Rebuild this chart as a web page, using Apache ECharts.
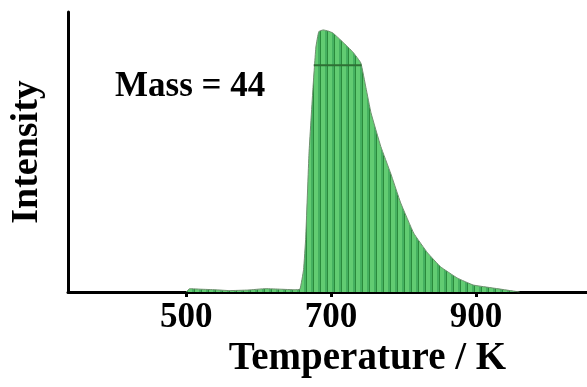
<!DOCTYPE html>
<html>
<head>
<meta charset="utf-8">
<script src="https://cdn.jsdelivr.net/npm/echarts@6/dist/echarts.min.js"></script>
<style>
  html, body { margin: 0; padding: 0; background: #fff; }
  #chart { width: 587px; height: 387px; }
</style>
</head>
<body>
<div id="chart"></div>
<script>
// temperatures (K) and intensity (arb. units, 0..100)
const temps = [500, 505, 520, 540, 560, 585, 610, 630, 650, 657, 662, 665, 669.5, 675, 679, 683, 689, 696, 702.5, 716, 730, 741, 748, 755, 768.5, 782, 796, 814, 833, 851, 874, 896, 924, 947, 960];
const intensity = [0, 1.2, 1.0, 0.8, 0.5, 0.7, 1.2, 1.0, 0.8, 1.0, 8, 19.6, 49.6, 73, 87.5, 93, 93.6, 93.2, 92.5, 89.3, 85.7, 81.8, 73, 64, 52, 42.5, 31.8, 21, 14, 9, 5, 2.5, 1.4, 0.5, 0];
// dark horizontal stroke seen across the peak
const markTemps = [676, 742];
const markLevel = [81, 81];
const tickValues = [500, 700, 900];

const font = 'Liberation Serif, Times New Roman, serif';

/* vertical stripe fill like the original plot */
const pat = document.createElement('canvas');
pat.width = 7;
pat.height = 10;
const pctx = pat.getContext('2d');
pctx.fillStyle = '#62cc72';
pctx.fillRect(0, 0, 7, 10);
pctx.fillStyle = '#45b060';
pctx.fillRect(3, 0, 2, 10);
pctx.fillStyle = '#2a8a3c';
pctx.fillRect(5, 0, 1, 10);

const chart = echarts.init(document.getElementById('chart'), null, { renderer: 'canvas' });

chart.setOption({
  animation: false,
  backgroundColor: '#fff',
  title: {
    text: 'Mass = 44',
    left: 110,
    top: 64,
    textStyle: { fontFamily: font, fontWeight: 'bold', fontSize: 35, color: '#000' },
  },
  grid: { left: 66, right: 0, top: 12, bottom: 95 },
  xAxis: {
    type: 'value',
    min: 337,
    max: 1053,
    name: 'Temperature / K',
    nameLocation: 'middle',
    nameGap: 47,
    nameTextStyle: { fontFamily: font, fontWeight: 'bold', fontSize: 39, color: '#000', padding: [0, 0, 0, 80] },
    axisLine: { lineStyle: { color: '#000', width: 3 } },
    axisTick: { show: true, customValues: tickValues, length: 5, lineStyle: { color: '#000', width: 3 } },
    axisLabel: { customValues: tickValues, margin: 8, fontFamily: font, fontWeight: 'bold', fontSize: 35, color: '#000' },
    splitLine: { show: false },
  },
  yAxis: {
    type: 'value',
    min: 0,
    max: 100,
    name: 'Intensity',
    nameLocation: 'middle',
    nameGap: 22,
    nameRotate: 90,
    nameTextStyle: { fontFamily: font, fontWeight: 'bold', fontSize: 38, color: '#000' },
    axisLine: { show: true, lineStyle: { color: '#000', width: 3 } },
    axisTick: { show: false },
    axisLabel: { show: false },
    splitLine: { show: false },
  },
  series: [
    {
      type: 'line',
      data: temps.map((t, i) => [t, intensity[i]]),
      showSymbol: false,
      smooth: 0.1,
      lineStyle: { color: '#6f8f6f', width: 1 },
      areaStyle: { color: { image: pat, repeat: 'repeat' }, opacity: 1 },
      z: 1,
    },
    {
      type: 'line',
      data: markTemps.map((t, i) => [t, markLevel[i]]),
      showSymbol: false,
      lineStyle: { color: '#2f6f35', width: 2 },
      z: 2,
    },
  ],
});
</script>
</body>
</html>
